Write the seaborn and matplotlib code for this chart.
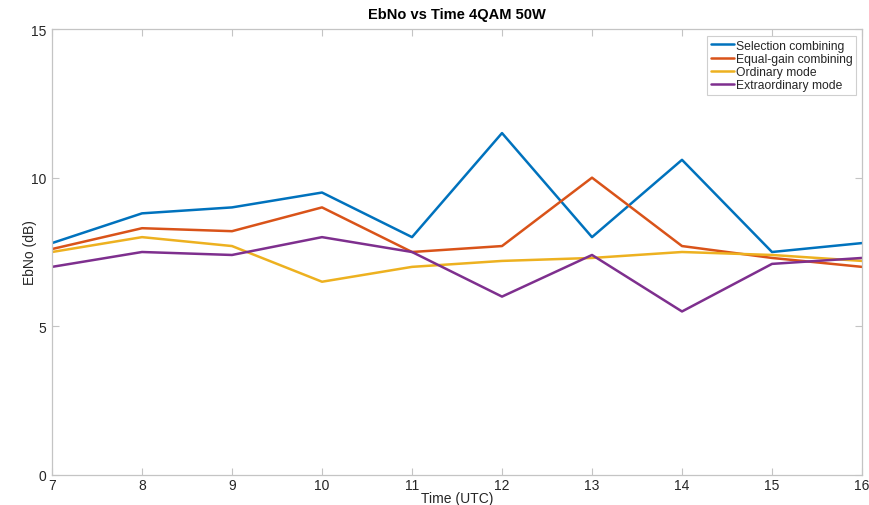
import matplotlib
matplotlib.use("Agg")
import matplotlib.pyplot as plt
import seaborn as sns
import pandas as pd

# Hourly EbNo measurements (dB), 4QAM at 50 W
hours = [7, 8, 9, 10, 11, 12, 13, 14, 15, 16]
selection = [7.8, 8.8, 9.0, 9.5, 8.0, 11.5, 8.0, 10.6, 7.5, 7.8]
equal_gain = [7.6, 8.3, 8.2, 9.0, 7.5, 7.7, 10.0, 7.7, 7.3, 7.0]
ordinary = [7.5, 8.0, 7.7, 6.5, 7.0, 7.2, 7.3, 7.5, 7.4, 7.2]
extraordinary = [7.0, 7.5, 7.4, 8.0, 7.5, 6.0, 7.4, 5.5, 7.1, 7.3]

series_names = ["Selection combining", "Equal-gain combining",
                "Ordinary mode", "Extraordinary mode"]
series_values = [selection, equal_gain, ordinary, extraordinary]
colors = ["#0072BD", "#D95319", "#EDB120", "#7E2F8E"]

df = pd.concat(
    [pd.DataFrame({"Time": hours, "EbNo": vals, "Mode": name})
     for name, vals in zip(series_names, series_values)],
    ignore_index=True,
)

sns.set_theme(style="white")
plt.rcParams["font.family"] = ["Liberation Sans", "DejaVu Sans"]

fig = plt.figure(figsize=(8.7, 5.06), dpi=100)
ax = fig.add_axes([0.0598, 0.0593, 0.931, 0.8814])

sns.lineplot(data=df, x="Time", y="EbNo", hue="Mode", hue_order=series_names,
             palette=colors, linewidth=1.8, ax=ax, legend=True)

ax.set_xlim(7, 16)
ax.set_ylim(0, 15)
ax.set_xticks(range(7, 17))
ax.set_yticks([0, 5, 10, 15])
ax.set_xlabel("Time (UTC)", fontsize=10, color="#262626", labelpad=-0.5)
ax.set_ylabel("EbNo (dB)", fontsize=10, color="#262626", labelpad=-4)
ax.set_title("EbNo vs Time 4QAM 50W", fontsize=10.5, fontweight="bold",
             color="#000000", pad=8)

for side in ax.spines.values():
    side.set_color("#c4c4c4")
    side.set_linewidth(0.9)
ax.tick_params(axis="both", which="both", direction="in", length=5,
               width=0.8, color="#c4c4c4", labelsize=10, labelcolor="#262626",
               top=True, right=True, bottom=True, left=True)
ax.tick_params(axis="x", pad=2)
ax.tick_params(axis="y", pad=4)

leg = ax.legend(loc="upper right", bbox_to_anchor=(0.9926, 0.9843),
                fontsize=8.7, frameon=True, fancybox=False, handlelength=1.95,
                handletextpad=0.1, borderpad=0.3, labelspacing=0.1,
                borderaxespad=0)
leg.get_frame().set_edgecolor("#c4c4c4")
leg.get_frame().set_linewidth(0.8)
for line in leg.get_lines():
    line.set_linewidth(1.8)

fig.savefig("out.png", dpi=100)
